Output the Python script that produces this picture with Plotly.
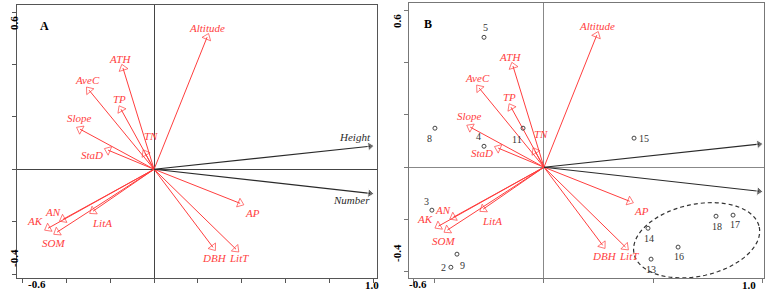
import numpy as np
import plotly.graph_objects as go

# ---------------- data ----------------
env_vars = ["Altitude", "ATH", "AveC", "TP", "Slope", "TN", "StaD",
            "AP", "DBH", "LitT", "AN", "AK", "SOM", "LitA"]
env_x = [0.242, -0.142, -0.297, -0.151, -0.338, -0.041, -0.210,
         0.393, 0.269, 0.374, -0.416, -0.484, -0.443, -0.279]
env_y = [0.504, 0.386, 0.302, 0.229, 0.153, 0.061, 0.073,
         -0.130, -0.298, -0.305, -0.191, -0.225, -0.240, -0.160]

species = ["Height", "Number"]
species_x = [0.986, 0.986]
species_y = [0.088, -0.092]

sites = ["5", "8", "4", "11", "15", "3", "9", "2", "14", "13", "16", "18", "17"]
site_x = [-0.275, -0.500, -0.275, -0.096, 0.413, -0.514, -0.399, -0.427,
          0.477, 0.491, 0.615, 0.789, 0.867]
site_y = [0.496, 0.149, 0.080, 0.149, 0.111, -0.164, -0.332, -0.382,
          -0.233, -0.351, -0.305, -0.187, -0.183]

x_tick_labels = ["-0.6", "1.0"]
y_tick_labels = ["0.6", "-0.4"]

# ---------------- style ----------------
RED = "#ff3e3e"
DARK = "#2a2a2a"
FONT = "Liberation Serif"
W, H = 768, 299

env_off = {"Altitude": (0, 9), "ATH": (-3, 9), "AveC": (-2, 10), "TP": (-2, 10),
           "Slope": (-1, 11), "TN": (6, 17), "StaD": (-16, -5), "AP": (12, -10),
           "DBH": (2, -11), "LitT": (3, -9), "AN": (-10, 7), "AK": (-13, 7),
           "SOM": (-4, -11), "LitA": (9, -12)}
sp_off = {"Height": (-15, 9), "Number": (-18, -7)}
site_off = {"5": (1, 10), "8": (-5, -10), "4": (-6, 10), "11": (-6, -11), "15": (10, 0),
            "3": (-5, 9), "9": (6, -11), "2": (-7, 0), "14": (1, -10), "13": (0, -10),
            "16": (1, -9), "18": (1, -10), "17": (2, -9)}

fig = go.Figure()
annotations = []

panels = [("x", "y", "A"), ("x2", "y2", "B")]

for xa, ya, tag in panels:
    for name, ex, ey in zip(env_vars, env_x, env_y):
        fig.add_trace(go.Scatter(
            x=[0, ex], y=[0, ey], xaxis=xa, yaxis=ya, mode="lines+markers",
            line=dict(color=RED, width=1),
            marker=dict(symbol=["circle", "triangle-up-open"], size=[0, 8],
                        angleref="previous", color=RED, line=dict(width=1, color=RED)),
            hoverinfo="skip", showlegend=False))
        dx, dy = env_off[name]
        annotations.append(dict(x=ex, y=ey, xref=xa, yref=ya, text="<i>" + name + "</i>",
                                showarrow=False, xshift=dx, yshift=dy,
                                font=dict(family=FONT, size=11, color=RED)))
    for name, sx, sy in zip(species, species_x, species_y):
        fig.add_trace(go.Scatter(
            x=[0, sx], y=[0, sy], xaxis=xa, yaxis=ya, mode="lines+markers",
            line=dict(color=DARK, width=1.1),
            marker=dict(symbol=["circle", "triangle-up"], size=[0, 8],
                        angleref="previous", color=DARK),
            hoverinfo="skip", showlegend=False))
        if tag == "A":
            dx, dy = sp_off[name]
            annotations.append(dict(x=sx, y=sy, xref=xa, yref=ya, text="<i>" + name + "</i>",
                                    showarrow=False, xshift=dx, yshift=dy,
                                    font=dict(family=FONT, size=11, color=DARK)))

# sites in panel B
fig.add_trace(go.Scatter(x=site_x, y=site_y, xaxis="x2", yaxis="y2", mode="markers",
                         marker=dict(symbol="circle-open", size=4, color="#444",
                                     line=dict(width=1, color="#444")),
                         hoverinfo="skip", showlegend=False))
for s, sx, sy in zip(sites, site_x, site_y):
    dx, dy = site_off[s]
    annotations.append(dict(x=sx, y=sy, xref="x2", yref="y2", text=s, showarrow=False,
                            xshift=dx, yshift=dy,
                            font=dict(family=FONT, size=10, color="#333")))

# panel letters
annotations.append(dict(x=38 / W, y=1 - 17 / H, xref="paper", yref="paper", text="<b>A</b>",
                        showarrow=False, font=dict(family=FONT, size=12, color="#000")))
annotations.append(dict(x=428 / W, y=1 - 15 / H, xref="paper", yref="paper", text="<b>B</b>",
                        showarrow=False, font=dict(family=FONT, size=12, color="#000")))

# tick labels (R-style: only extremes, y rotated)
tick_pos_x = [(26, 292, 372, 293), (418, 292, 758, 293)]
tick_pos_y = [(6, 14, 6, 269), (397, 12, 397, 264)]
for (x0, y0, x1, y1) in tick_pos_x:
    for lab, px, py in zip(x_tick_labels, [x0, x1], [y0, y1]):
        annotations.append(dict(x=px / W, y=1 - py / H, xref="paper", yref="paper",
                                text="<b>" + lab + "</b>", showarrow=False,
                                font=dict(family=FONT, size=11, color="#000")))
for (x0, y0, x1, y1) in tick_pos_y:
    for lab, px, py in zip(y_tick_labels, [x0, x1], [y0, y1]):
        annotations.append(dict(x=px / W, y=1 - py / H, xref="paper", yref="paper",
                                text="<b>" + lab + "</b>", showarrow=False, textangle=-90,
                                font=dict(family=FONT, size=11, color="#000")))

# dashed ellipse around sites 13,14,16,17,18 (pixel geometry converted to data space)
ell_cx, ell_cy, ell_a, ell_b, ell_tilt = 0.70, -0.279, 64, 36, -12
t = np.linspace(0, 2 * np.pi, 90)
ang = np.deg2rad(ell_tilt)
px = ell_a * np.cos(t) * np.cos(ang) - ell_b * np.sin(t) * np.sin(ang)
py = ell_a * np.cos(t) * np.sin(ang) + ell_b * np.sin(t) * np.cos(ang)
ex_d = ell_cx + px / 218.0
ey_d = ell_cy - py / 262.0
path = "M " + " L ".join(f"{a:.4f},{b:.4f}" for a, b in zip(ex_d, ey_d)) + " Z"

shapes = [dict(type="path", path=path, xref="x2", yref="y2",
               line=dict(color="#333", width=1.2, dash="4px,3px"))]

def axis(domain, rng, tickvals, lc, zc):
    return dict(domain=domain, range=rng, showgrid=False, zeroline=True, zerolinecolor=zc,
                zerolinewidth=1, showline=True, mirror=True, linecolor=lc, linewidth=1,
                ticks="outside", ticklen=4, tickcolor=lc, tickvals=tickvals,
                showticklabels=False, fixedrange=True)

fig.update_layout(
    width=W, height=H, margin=dict(l=0, r=0, t=0, b=0),
    plot_bgcolor="white", paper_bgcolor="white",
    xaxis=dict(axis([17 / W, 377 / W], [-0.626, 1.018],
                    [-0.6, -0.4, -0.2, 0, 0.2, 0.4, 0.6, 0.8, 1.0], "#555", "#444"),
               anchor="y"),
    yaxis=dict(axis([1 - 278 / H, 1 - 5 / H], [-0.415, 0.627],
                    [-0.4, -0.2, 0, 0.2, 0.4, 0.6], "#555", "#444"), anchor="x"),
    xaxis2=dict(axis([409 / W, 764 / W], [-0.619, 1.009], [-0.6, -0.5, 0, 0.5, 1.0],
                     "#777", "#888"), anchor="y2"),
    yaxis2=dict(axis([1 - 278 / H, 1 - 3 / H], [-0.423, 0.627],
                     [-0.4, -0.2, 0, 0.2, 0.4, 0.6], "#777", "#888"), anchor="x2"),
    annotations=annotations, shapes=shapes,
)

fig.write_html("out.html", config={"displayModeBar": False},
               post_script="document.body.style.margin='0px';")
